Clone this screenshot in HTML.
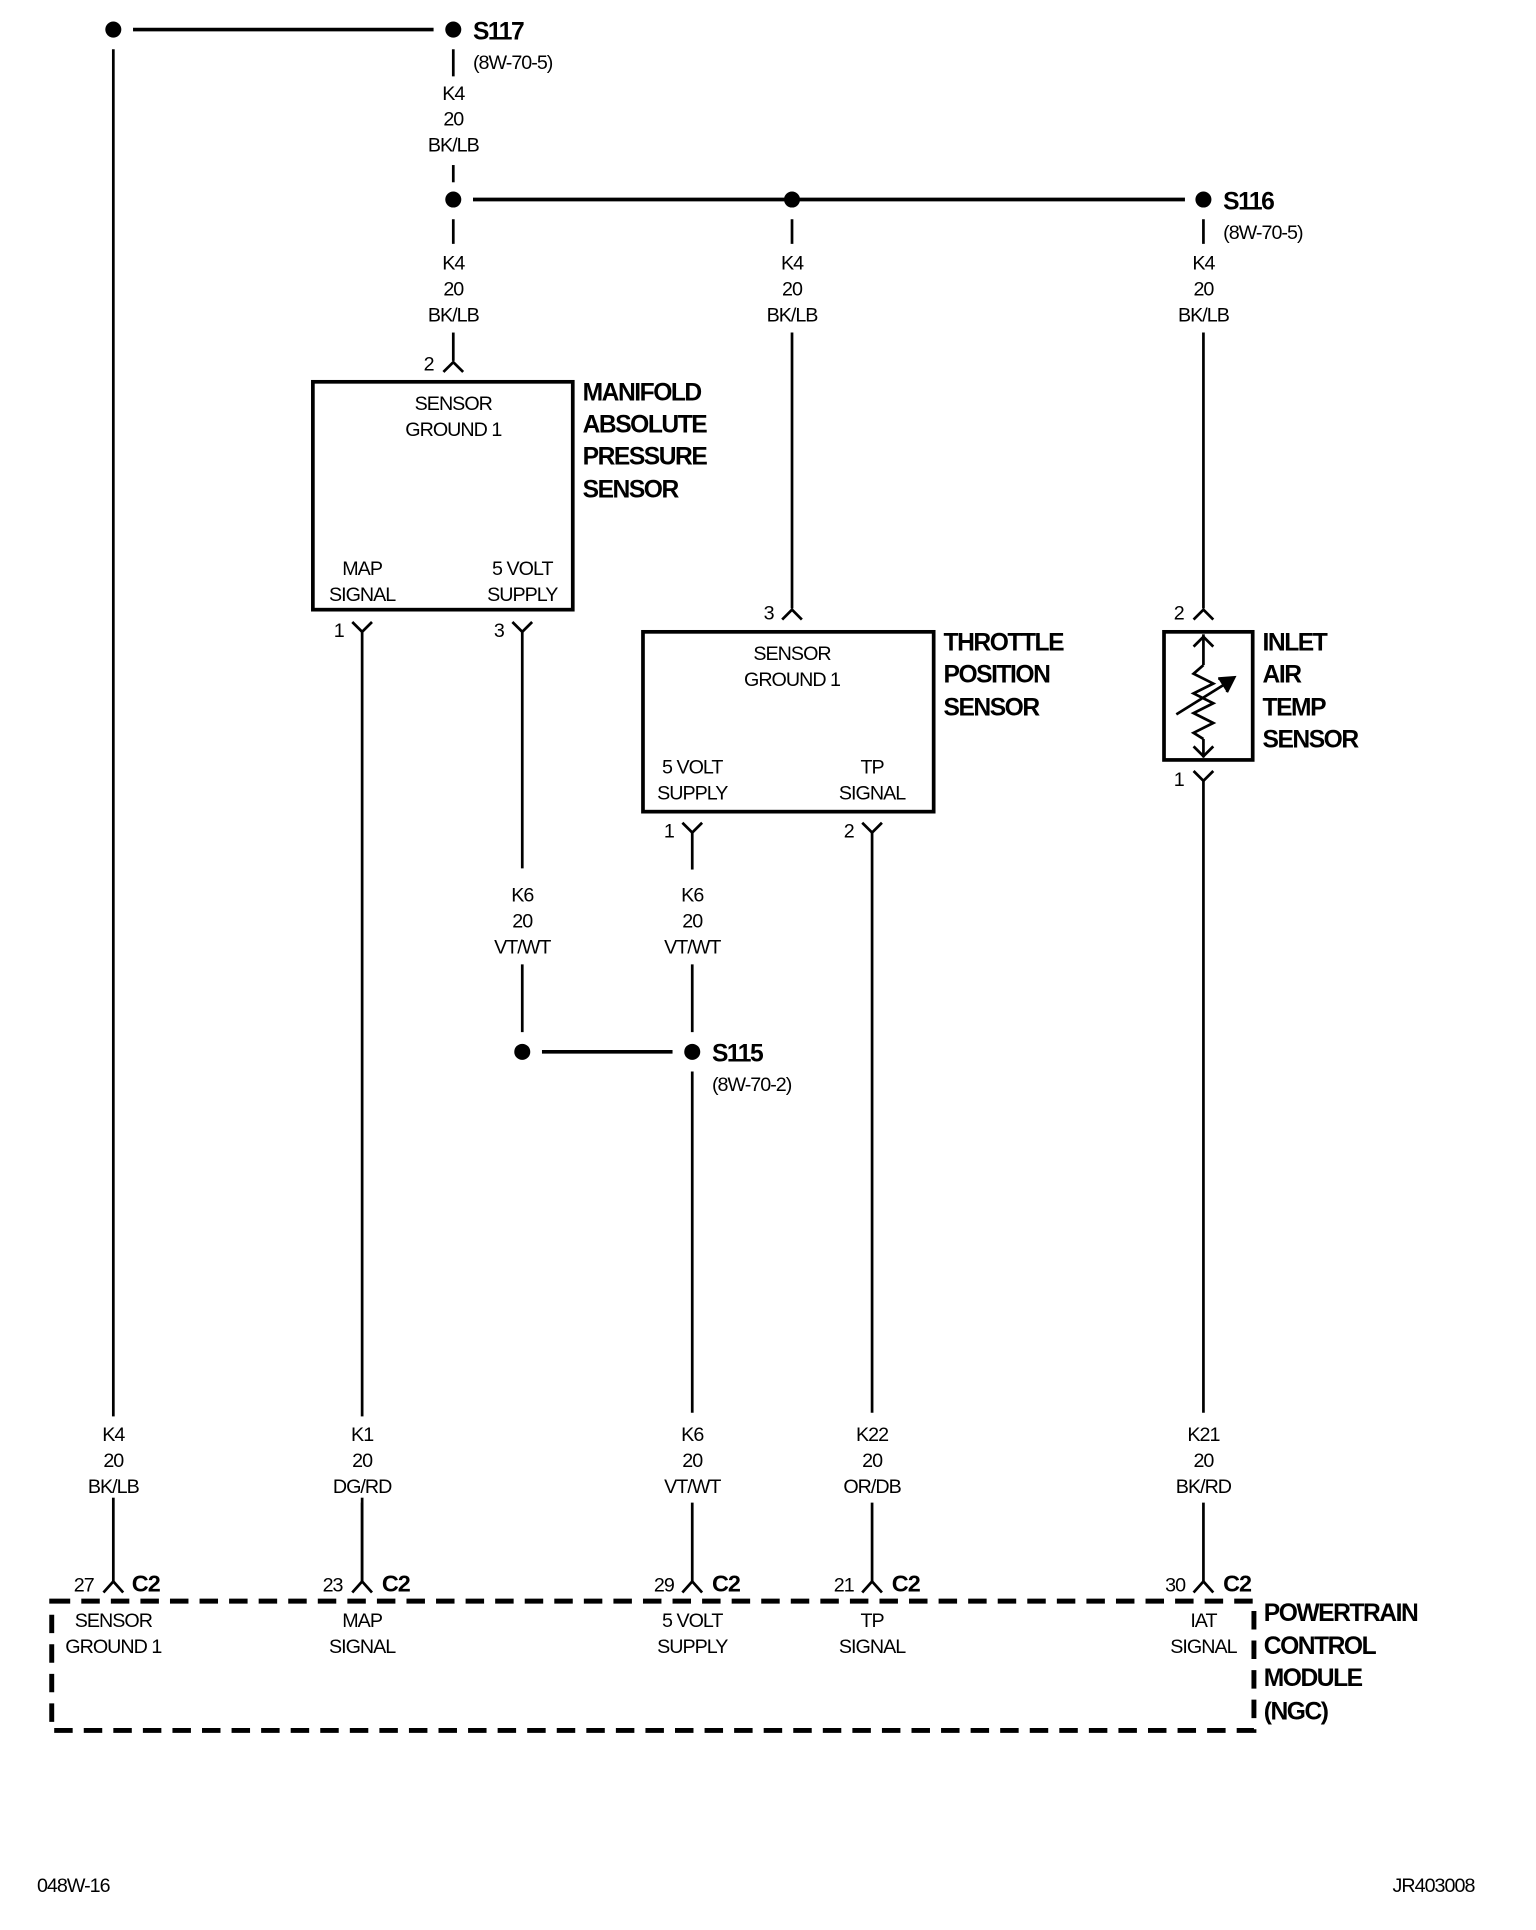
<!DOCTYPE html>
<html><head><meta charset="utf-8"><style>
html,body{margin:0;padding:0;background:#fff;}
svg{display:block}
text{font-family:"Liberation Sans Narrow","Liberation Sans",sans-serif;fill:#000}
.s{font-size:16px;letter-spacing:-0.8px;text-anchor:middle}
.sl{font-size:16px;letter-spacing:-0.8px}
.b{font-size:20px;font-weight:bold;letter-spacing:-1.2px}
.bs{font-size:19px;font-weight:bold;letter-spacing:-0.8px}
</style></head><body>
<svg width="1536" height="1930" viewBox="0 0 1247 1567" preserveAspectRatio="none" xmlns="http://www.w3.org/2000/svg">
<g stroke="#000" stroke-width="2.2" fill="none">
<line x1="108" y1="24" x2="352" y2="24" stroke-width="3"/>
<line x1="92" y1="40" x2="92" y2="1284"/>
<line x1="368" y1="40" x2="368" y2="62"/>
<line x1="368" y1="134" x2="368" y2="148"/>
<line x1="384" y1="162" x2="962" y2="162" stroke-width="3"/>
<line x1="368" y1="178" x2="368" y2="198"/>
<line x1="368" y1="270" x2="368" y2="293"/>
<polyline points="360,302 368,294 376,302"/>
<line x1="643" y1="178" x2="643" y2="198"/>
<line x1="643" y1="270" x2="643" y2="494"/>
<polyline points="635,503 643,495 651,503"/>
<line x1="977" y1="178" x2="977" y2="198"/>
<line x1="977" y1="270" x2="977" y2="494"/>
<polyline points="969,503 977,495 985,503"/>
<rect x="254" y="310" width="211" height="185" stroke-width="3"/>
<polyline points="286,505 294,513 302,505"/><line x1="294" y1="513" x2="294" y2="1284"/>
<polyline points="416,505 424,513 432,505"/><line x1="424" y1="513" x2="424" y2="705"/>
<line x1="424" y1="783" x2="424" y2="838"/>
<line x1="440" y1="854" x2="546" y2="854" stroke-width="3"/>
<rect x="522" y="513" width="236" height="146" stroke-width="3"/>
<polyline points="554,668 562,676 570,668"/><line x1="562" y1="676" x2="562" y2="706"/>
<line x1="562" y1="783" x2="562" y2="838"/>
<line x1="562" y1="870" x2="562" y2="1147"/>
<line x1="562" y1="1220" x2="562" y2="1284"/>
<polyline points="700,668 708,676 716,668"/><line x1="708" y1="676" x2="708" y2="1147"/>
<line x1="708" y1="1220" x2="708" y2="1284"/>
<rect x="945" y="513" width="72" height="104" stroke-width="3"/>
<line x1="977" y1="515" x2="977" y2="540"/>
<polyline points="969,525 977,517 985,525"/>
<polyline points="977,540 969,547 985,555 969,563 985,571 969,579 985,587 969,595 977,600"/>
<line x1="977" y1="600" x2="977" y2="615"/>
<polyline points="969,606 977,614 985,606"/>
<line x1="955" y1="580" x2="1000" y2="552"/>
<polyline points="989,551 1002,550 996,562" fill="#000"/>
<polyline points="969,626 977,634 985,626"/><line x1="977" y1="634" x2="977" y2="1147"/>
<line x1="977" y1="1220" x2="977" y2="1284"/>
<line x1="294" y1="1220" x2="294" y2="1284"/>
<polyline points="84,1293 92,1284 100,1293"/>
<polyline points="286,1293 294,1284 302,1293"/>
<polyline points="554,1293 562,1284 570,1293"/>
<polyline points="700,1293 708,1284 716,1293"/>
<polyline points="969,1293 977,1284 985,1293"/>
<rect x="42" y="1300" width="976" height="105" stroke-width="4" stroke-dasharray="15,9"/>
</g>
<rect x="80" y="1150" width="30" height="66" fill="#fff"/>
<rect x="282" y="1150" width="30" height="66" fill="#fff"/>
<rect x="695" y="1150" width="30" height="66" fill="#fff"/>
<rect x="965" y="1150" width="30" height="66" fill="#fff"/>
<g fill="#000">
<circle cx="92" cy="24" r="6.5"/><circle cx="368" cy="24" r="6.5"/>
<circle cx="368" cy="162" r="6.5"/><circle cx="643" cy="162" r="6.5"/><circle cx="977" cy="162" r="6.5"/>
<circle cx="424" cy="854" r="6.5"/><circle cx="562" cy="854" r="6.5"/>
</g>
<text class="b" x="384" y="32">S117</text>
<text class="sl" x="384" y="56">(8W-70-5)</text>
<text class="b" x="993" y="170">S116</text>
<text class="sl" x="993" y="194">(8W-70-5)</text>
<text class="b" x="578" y="862">S115</text>
<text class="sl" x="578" y="886">(8W-70-2)</text>

<text class="s" x="368" y="81">K4</text><text class="s" x="368" y="102">20</text><text class="s" x="368" y="123">BK/LB</text>
<text class="s" x="368" y="219">K4</text><text class="s" x="368" y="240">20</text><text class="s" x="368" y="261">BK/LB</text>
<text class="s" x="643" y="219">K4</text><text class="s" x="643" y="240">20</text><text class="s" x="643" y="261">BK/LB</text>
<text class="s" x="977" y="219">K4</text><text class="s" x="977" y="240">20</text><text class="s" x="977" y="261">BK/LB</text>
<text class="s" x="348" y="301">2</text>
<text class="s" x="624" y="503">3</text>
<text class="s" x="957" y="503">2</text>

<text class="s" x="368" y="333">SENSOR</text><text class="s" x="368" y="354">GROUND 1</text>
<text class="s" x="294" y="467">MAP</text><text class="s" x="294" y="488">SIGNAL</text>
<text class="s" x="424" y="467">5 VOLT</text><text class="s" x="424" y="488">SUPPLY</text>
<text class="b" x="473" y="325">MANIFOLD</text><text class="b" x="473" y="351">ABSOLUTE</text>
<text class="b" x="473" y="377">PRESSURE</text><text class="b" x="473" y="404">SENSOR</text>
<text class="s" x="275" y="517">1</text><text class="s" x="405" y="517">3</text>

<text class="s" x="643" y="536">SENSOR</text><text class="s" x="643" y="557">GROUND 1</text>
<text class="s" x="562" y="628">5 VOLT</text><text class="s" x="562" y="649">SUPPLY</text>
<text class="s" x="708" y="628">TP</text><text class="s" x="708" y="649">SIGNAL</text>
<text class="b" x="766" y="528">THROTTLE</text><text class="b" x="766" y="554">POSITION</text><text class="b" x="766" y="581">SENSOR</text>
<text class="s" x="543" y="680">1</text><text class="s" x="689" y="680">2</text>

<text class="b" x="1025" y="528">INLET</text><text class="b" x="1025" y="554">AIR</text>
<text class="b" x="1025" y="581">TEMP</text><text class="b" x="1025" y="607">SENSOR</text>
<text class="s" x="957" y="638">1</text>

<text class="s" x="424" y="732">K6</text><text class="s" x="424" y="753">20</text><text class="s" x="424" y="774">VT/WT</text>
<text class="s" x="562" y="732">K6</text><text class="s" x="562" y="753">20</text><text class="s" x="562" y="774">VT/WT</text>

<text class="s" x="92" y="1170">K4</text><text class="s" x="92" y="1191">20</text><text class="s" x="92" y="1212">BK/LB</text>
<text class="s" x="294" y="1170">K1</text><text class="s" x="294" y="1191">20</text><text class="s" x="294" y="1212">DG/RD</text>
<text class="s" x="562" y="1170">K6</text><text class="s" x="562" y="1191">20</text><text class="s" x="562" y="1212">VT/WT</text>
<text class="s" x="708" y="1170">K22</text><text class="s" x="708" y="1191">20</text><text class="s" x="708" y="1212">OR/DB</text>
<text class="s" x="977" y="1170">K21</text><text class="s" x="977" y="1191">20</text><text class="s" x="977" y="1212">BK/RD</text>

<text class="s" x="68" y="1292">27</text><text class="bs" x="107" y="1292">C2</text>
<text class="s" x="270" y="1292">23</text><text class="bs" x="310" y="1292">C2</text>
<text class="s" x="539" y="1292">29</text><text class="bs" x="578" y="1292">C2</text>
<text class="s" x="685" y="1292">21</text><text class="bs" x="724" y="1292">C2</text>
<text class="s" x="954" y="1292">30</text><text class="bs" x="993" y="1292">C2</text>

<text class="s" x="92" y="1321">SENSOR</text><text class="s" x="92" y="1342">GROUND 1</text>
<text class="s" x="294" y="1321">MAP</text><text class="s" x="294" y="1342">SIGNAL</text>
<text class="s" x="562" y="1321">5 VOLT</text><text class="s" x="562" y="1342">SUPPLY</text>
<text class="s" x="708" y="1321">TP</text><text class="s" x="708" y="1342">SIGNAL</text>
<text class="s" x="977" y="1321">IAT</text><text class="s" x="977" y="1342">SIGNAL</text>
<text class="b" x="1026" y="1316">POWERTRAIN</text><text class="b" x="1026" y="1343">CONTROL</text>
<text class="b" x="1026" y="1369">MODULE</text><text class="b" x="1026" y="1396">(NGC)</text>

<text class="sl" x="30" y="1536">048W-16</text>
<text class="sl" x="1197" y="1536" text-anchor="end">JR403008</text>
</svg>
</body></html>
